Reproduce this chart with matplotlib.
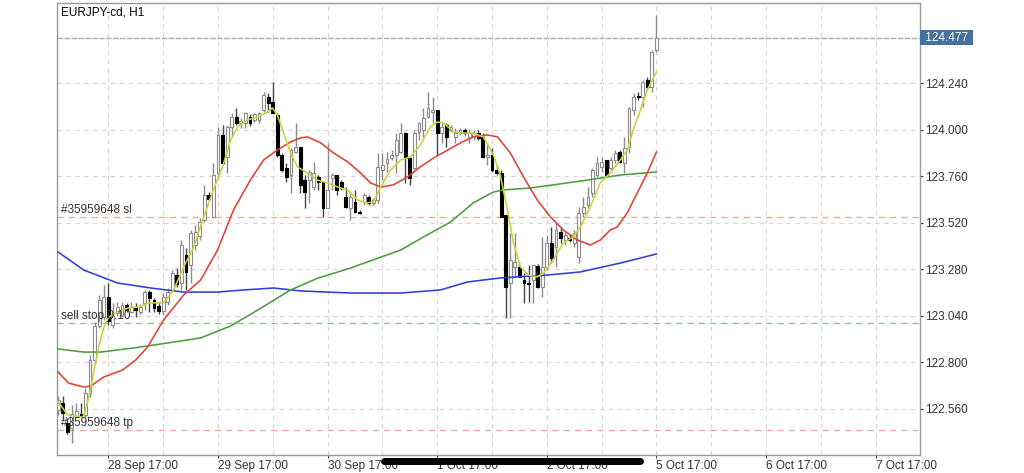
import matplotlib.pyplot as plt
from matplotlib.lines import Line2D

plt.rcParams['font.family'] = ['Liberation Sans', 'DejaVu Sans']

# EURJPY-cd H1, 28 Sep 06:00 .. 5 Oct 17:00 (bar index 0..131)
opens = [122.552, 122.589, 122.485, 122.459, 122.516, 122.532, 122.527, 122.640, 122.811, 122.987,
         123.033, 123.137, 122.992, 123.054, 123.043, 123.095, 123.059, 123.080, 123.059, 123.106,
         123.162, 123.121, 123.090, 123.064, 123.111, 123.173, 123.250, 123.209, 123.354, 123.302,
         123.405, 123.452, 123.535, 123.664, 123.550, 123.778, 123.974, 123.860, 124.015, 124.067,
         124.036, 124.036, 124.067, 124.052, 124.052, 124.103, 124.171, 124.145, 124.077, 123.871,
         123.804, 123.767, 123.886, 123.912, 123.741, 123.741, 123.705, 123.757, 123.731, 123.597,
         123.752, 123.767, 123.731, 123.654, 123.597, 123.628, 123.576, 123.628, 123.654, 123.623,
         123.638, 123.793, 123.829, 123.855, 123.871, 123.886, 123.984, 123.855, 123.804, 123.990,
         124.000, 124.067, 124.093, 124.103, 123.984, 124.026, 124.000, 123.964, 123.984, 124.000,
         123.964, 123.964, 123.984, 123.964, 123.860, 123.871, 123.793, 123.778, 123.560, 123.209,
         123.292, 123.292, 123.224, 123.209, 123.224, 123.297, 123.188, 123.292, 123.416, 123.395,
         123.473, 123.431, 123.442, 123.416, 123.343, 123.571, 123.612, 123.674, 123.767, 123.809,
         123.845, 123.804, 123.845, 123.886, 123.829, 123.912, 124.103, 124.176, 124.171, 124.258,
         124.222, 124.414]
highs = [122.625, 122.625, 122.511, 122.578, 122.589, 122.589, 122.666, 122.837, 123.007, 123.147,
         123.198, 123.209, 123.106, 123.111, 123.111, 123.106, 123.111, 123.106, 123.100, 123.173,
         123.173, 123.131, 123.111, 123.157, 123.183, 123.276, 123.286, 123.431, 123.390, 123.483,
         123.509, 123.545, 123.716, 123.679, 123.829, 124.015, 124.026, 124.026, 124.088, 124.114,
         124.062, 124.093, 124.083, 124.088, 124.093, 124.196, 124.191, 124.248, 124.088, 123.881,
         123.829, 123.907, 124.036, 123.912, 123.767, 123.793, 123.835, 123.767, 123.731, 123.933,
         123.778, 123.767, 123.741, 123.705, 123.674, 123.690, 123.586, 123.674, 123.664, 123.648,
         123.881, 123.881, 123.886, 123.896, 123.984, 124.036, 123.990, 123.860, 124.000, 124.041,
         124.114, 124.196, 124.171, 124.103, 124.041, 124.036, 124.026, 124.010, 124.010, 124.010,
         124.000, 124.000, 124.000, 123.984, 123.933, 123.907, 123.819, 123.793, 123.560, 123.468,
         123.468, 123.317, 123.261, 123.302, 123.302, 123.307, 123.447, 123.457, 123.498, 123.519,
         123.498, 123.473, 123.462, 123.483, 123.602, 123.654, 123.705, 123.804, 123.860, 123.860,
         123.845, 123.860, 123.896, 123.896, 123.964, 124.119, 124.191, 124.196, 124.258, 124.274,
         124.414, 124.594]
lows = [122.527, 122.501, 122.428, 122.382, 122.511, 122.516, 122.516, 122.619, 122.790, 122.976,
        123.018, 122.992, 122.976, 123.038, 123.033, 123.059, 123.054, 123.033, 123.049, 123.069,
        123.059, 123.059, 123.049, 123.043, 123.095, 123.162, 123.188, 123.173, 123.173, 123.209,
        123.379, 123.431, 123.524, 123.638, 123.550, 123.757, 123.819, 123.778, 123.964, 124.026,
        124.010, 124.010, 124.021, 124.041, 124.036, 124.093, 124.093, 124.088, 123.860, 123.783,
        123.731, 123.674, 123.881, 123.674, 123.597, 123.623, 123.690, 123.690, 123.550, 123.597,
        123.690, 123.664, 123.690, 123.597, 123.535, 123.571, 123.566, 123.612, 123.612, 123.612,
        123.623, 123.741, 123.783, 123.845, 123.778, 123.881, 123.726, 123.716, 123.793, 123.948,
        123.964, 124.062, 124.036, 123.871, 123.933, 123.912, 123.990, 123.933, 123.974, 123.974,
        123.933, 123.948, 123.948, 123.855, 123.819, 123.783, 123.767, 123.550, 123.028, 123.028,
        123.240, 123.240, 123.106, 123.111, 123.106, 123.183, 123.137, 123.276, 123.312, 123.292,
        123.416, 123.405, 123.421, 123.395, 123.312, 123.550, 123.597, 123.654, 123.757, 123.783,
        123.767, 123.793, 123.829, 123.829, 123.778, 123.881, 124.077, 124.155, 124.119, 124.207,
        124.196, 124.403]
closes = [122.604, 122.537, 122.439, 122.532, 122.547, 122.521, 122.640, 122.811, 122.987, 123.121,
          123.137, 123.012, 123.038, 123.085, 123.095, 123.069, 123.085, 123.069, 123.085, 123.162,
          123.131, 123.080, 123.064, 123.137, 123.162, 123.261, 123.204, 123.405, 123.266, 123.468,
          123.473, 123.524, 123.664, 123.643, 123.767, 123.974, 123.829, 124.015, 124.067, 124.036,
          124.046, 124.088, 124.036, 124.083, 124.088, 124.181, 124.140, 124.088, 123.871, 123.793,
          123.757, 123.896, 123.912, 123.716, 123.679, 123.783, 123.778, 123.731, 123.597, 123.690,
          123.767, 123.690, 123.700, 123.602, 123.654, 123.576, 123.571, 123.664, 123.623, 123.638,
          123.809, 123.819, 123.850, 123.871, 123.948, 123.984, 123.855, 123.752, 123.984, 124.036,
          124.062, 124.114, 124.103, 123.984, 124.015, 123.964, 124.015, 123.984, 124.000, 123.984,
          123.990, 123.984, 123.959, 123.860, 123.871, 123.793, 123.778, 123.550, 123.188, 123.328,
          123.317, 123.240, 123.209, 123.204, 123.302, 123.188, 123.292, 123.416, 123.338, 123.483,
          123.442, 123.457, 123.431, 123.468, 123.571, 123.602, 123.654, 123.793, 123.829, 123.835,
          123.767, 123.845, 123.881, 123.835, 123.907, 124.114, 124.171, 124.171, 124.248, 124.222,
          124.403, 124.477]

# moving averages (bar index, price)
ma_fast_x = [0, 2.1, 5.4, 6, 7.1, 8, 8.9, 10, 11.1, 13, 15.4, 17.6, 19.8, 23.1, 25.3, 27.5, 29.7, 31.9,
             34, 36, 37.8, 39.3, 41.5, 43.7, 45.9, 46.9, 48, 49.4, 50.9, 52.4, 54.6, 56.8, 59, 61.2,
             63.4, 65.6, 67.7, 69.1, 70.6, 72.8, 75, 77.1, 79.3, 81.5, 83, 84.4, 86.6, 88.7, 90.9,
             93.1, 95.3, 96.8, 98.4, 99.7, 101.2, 103, 104.9, 106.3, 108.4, 110.6, 112.8, 114.3,
             116.5, 118.7, 120.9, 123.1, 124.6, 125.9, 127.5, 129, 131]
ma_fast = [122.595, 122.527, 122.516, 122.552, 122.656, 122.775, 122.878, 122.981, 123.033, 123.059,
           123.080, 123.085, 123.106, 123.106, 123.173, 123.292, 123.395, 123.550, 123.690, 123.809,
           123.948, 124.015, 124.052, 124.067, 124.093, 124.114, 124.077, 123.984, 123.881, 123.809,
           123.778, 123.741, 123.726, 123.705, 123.690, 123.638, 123.623, 123.628, 123.705, 123.793,
           123.845, 123.860, 123.922, 124.015, 124.041, 124.036, 123.990, 123.984, 123.984, 123.964,
           123.871, 123.767, 123.586, 123.416, 123.292, 123.250, 123.240, 123.261, 123.328, 123.416,
           123.447, 123.498, 123.602, 123.726, 123.778, 123.845, 123.896, 124.000, 124.103, 124.207,
           124.300]
ma_red_x = [0, 2.3, 5.6, 7.1, 10, 14.1, 17, 19.6, 23.1, 27.5, 31.2, 34.9, 38.4, 42.1, 45, 48, 50.9,
            53.1, 54.6, 57.5, 60.3, 63.4, 66.2, 68.4, 70.6, 73.4, 76.5, 79.3, 82.2, 85.3, 88.1, 90.9,
            94, 96.2, 99, 101.9, 104.9, 107.8, 110.6, 113.7, 116.5, 118.7, 120.9, 122.4, 124.6, 126.8,
            129, 131]
ma_red = [122.749, 122.692, 122.671, 122.676, 122.723, 122.759, 122.811, 122.878, 123.018, 123.147,
          123.224, 123.379, 123.586, 123.741, 123.845, 123.896, 123.938, 123.959, 123.964, 123.933,
          123.881, 123.835, 123.778, 123.726, 123.705, 123.716, 123.757, 123.809, 123.855, 123.896,
          123.933, 123.964, 123.974, 123.964, 123.881, 123.757, 123.638, 123.550, 123.483, 123.431,
          123.405, 123.431, 123.483, 123.498, 123.571, 123.674, 123.778, 123.886]
ma_green_x = [0, 5.6, 9.3, 16.5, 24, 31.2, 37.8, 43.7, 50.9, 57, 64, 69.5, 75, 80, 85.9, 90.9, 95.3,
              97.5, 103.4, 108.4, 115.9, 123.1, 131]
ma_green = [122.868, 122.852, 122.852, 122.873, 122.899, 122.925, 122.987, 123.069, 123.173, 123.235,
            123.286, 123.333, 123.379, 123.447, 123.524, 123.623, 123.679, 123.690, 123.700, 123.716,
            123.741, 123.767, 123.783]
ma_blue_x = [0, 5.6, 13, 20.3, 27.5, 34.9, 40.6, 47.2, 53.1, 64, 75, 83.7, 89.6, 96.8, 107.1, 114.3,
             123.1, 131]
ma_blue = [123.369, 123.276, 123.209, 123.183, 123.162, 123.162, 123.173, 123.183, 123.168, 123.157,
           123.157, 123.173, 123.214, 123.235, 123.250, 123.266, 123.312, 123.359]

bid = 124.477
sl_price = 123.549
sellstop_price = 123.0
tp_price = 122.447

y_ticks = [122.560, 122.800, 123.040, 123.280, 123.520, 123.760, 124.000, 124.240]
x_tick_pos = [11, 35, 59, 83, 107, 131, 155, 179]
x_tick_labels = ['28 Sep 17:00', '29 Sep 17:00', '30 Sep 17:00', '1 Oct 17:00',
                 '2 Oct 17:00', '5 Oct 17:00', '6 Oct 17:00', '7 Oct 17:00']
x_grid_minor = [23, 47, 71, 95, 119, 143, 167]

fig = plt.figure(figsize=(10.24, 4.73), dpi=100)
ax = fig.add_axes([57.4 / 1024, 1 - 455 / 473, (920 - 57.4) / 1024, 452 / 473])

# candles
for i in range(len(opens)):
    o, h, l, c = opens[i], highs[i], lows[i], closes[i]
    bull = c >= o
    wick_col = '#8c8c8c' if bull else '#444444'
    ax.vlines(i, l, h, color=wick_col, lw=1, zorder=2)
    ax.bar(i, max(abs(c - o), 0.003), bottom=min(o, c), width=0.62,
           color='white' if bull else 'black', edgecolor='#8c8c8c' if bull else 'black',
           lw=0.8, zorder=2.5)

ax.plot(ma_blue_x, ma_blue, color='#2f3fd8', lw=1.15, zorder=3)
ax.plot(ma_green_x, ma_green, color='#4c9e3e', lw=1.15, zorder=3)
ax.plot(ma_red_x, ma_red, color='#de4436', lw=1.15, zorder=3)
ax.plot(ma_fast_x, ma_fast, color='#cbd23a', lw=1.15, zorder=3)

# order lines
ax.axhline(bid, color='#9aaec6', lw=1, ls=(0, (4, 1)), zorder=1.5)
ax.axhline(sl_price, color='#f2a68c', lw=0.9, ls=(0, (5, 4)), zorder=1.5)
ax.axhline(sellstop_price, color='#86c786', lw=0.9, ls=(0, (5, 4)), zorder=1.5)
ax.axhline(tp_price, color='#f2a68c', lw=0.9, ls=(0, (5, 4)), zorder=1.5)

tr = ax.get_yaxis_transform()
ax.text(0.004, sl_price + 0.006, '#35959648 sl', transform=tr, fontsize=8.5, color='#333333', va='bottom')
ax.text(0.004, sellstop_price + 0.006, 'sell stop 0.10', transform=tr, fontsize=8.5, color='#333333', va='bottom')
ax.text(0.004, tp_price + 0.006, '#35959648 tp', transform=tr, fontsize=8.5, color='#333333', va='bottom')
ax.text(0.004, 0.992, 'EURJPY-cd, H1', transform=ax.transAxes, fontsize=8.5, color='black', va='top')

ax.text(1.002, bid, ' 124.477 ', transform=tr, fontsize=8.5, color='white', va='center', ha='left',
        clip_on=False, bbox=dict(boxstyle='square,pad=0.12', fc='#45709f', ec='none'))

ax.set_xlim(-0.15, 188.7)
ax.set_ylim(122.320, 124.656)

ax.yaxis.tick_right()
ax.set_yticks(y_ticks)
ax.set_yticklabels([f'{v:.3f}' for v in y_ticks])
ax.set_xticks(x_tick_pos)
ax.set_xticklabels(x_tick_labels)
ax.set_xticks(x_grid_minor, minor=True)
for lab in ax.get_xticklabels():
    lab.set_horizontalalignment('left')
ax.tick_params(axis='both', which='major', labelsize=8.5, colors='#333333', length=2, pad=1.5,
               direction='out', width=0.8)
ax.tick_params(axis='x', which='minor', length=0)
ax.set_axisbelow(True)
ax.grid(True, axis='y', color='#d6d6d6', lw=0.8, ls=(0, (4, 4)))
ax.grid(True, axis='x', which='both', color='#d6d6d6', lw=0.8, ls=(0, (4, 4)))
for s in ax.spines.values():
    s.set_color('#9a9a9a')
    s.set_linewidth(1)

# black scroll bar drawn over the time labels
fig.add_artist(Line2D([384 / 1024, 640 / 1024], [1 - 461 / 473] * 2, lw=5, color='black',
                      solid_capstyle='round'))

fig.savefig('out.png', dpi=100)
